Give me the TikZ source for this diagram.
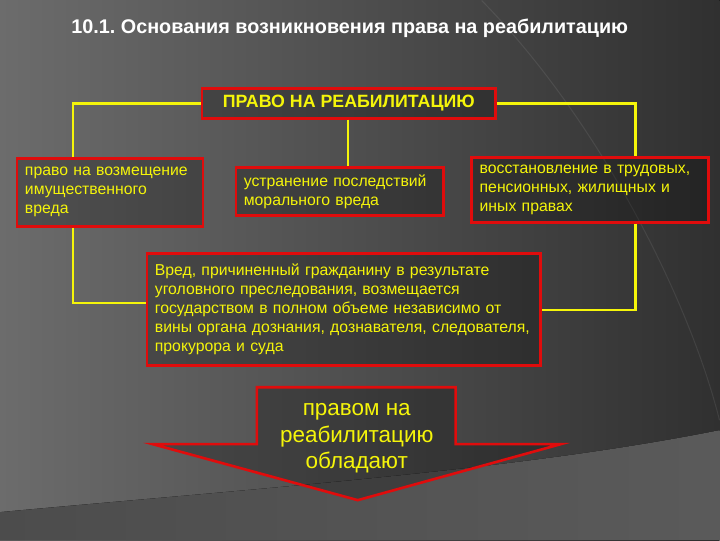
\documentclass[tikz,border=0pt]{standalone}
\usepackage{fontspec}
\setmainfont{Liberation Sans}
\usetikzlibrary{positioning}
\definecolor{bgleft}{HTML}{6C6C6C}
\definecolor{bgright}{HTML}{303030}
\definecolor{bglow}{HTML}{4C4C4C}
\definecolor{slidered}{HTML}{E00C0C}
\definecolor{slideyellow}{HTML}{F5F50A}
\frenchspacing
\begin{document}
\begin{tikzpicture}[x=1pt,y=-1pt]
\tikzset{ box/.style={draw=slidered, line width=2.6pt, fill=black, fill opacity=0.25, text opacity=1,
            text=slideyellow, align=left, inner xsep=8pt, inner ysep=4pt,
            font=\fontsize{15.8}{19}\selectfont},
          link/.style={slideyellow, line width=2.4pt},
          heading/.style={text=white, font=\bfseries\fontsize{19.8}{22}\selectfont},
}

% background
\fill [left color=bgleft, right color=bgright] (0,0) rectangle (720,540);
\fill [left color=bglow, right color=bglow!92!white]
  (0,512) .. controls (260,488) and (520,470) .. (720,430) -- (720,540) -- (0,540) -- cycle;
\draw [white, opacity=0.08, line width=1pt] (482,0) .. controls (600,120) and (690,300) .. (720,420);

\node [heading] (title) at (350,28) {10.1. Основания возникновения права на реабилитацию};

\node [box, align=center, minimum width=294, minimum height=30, inner ysep=0pt,
       font=\bfseries\fontsize{17.8}{20}\selectfont] (top) at (349,103) {ПРАВО НА РЕАБИЛИТАЦИЮ};

\node [box, text width=170, minimum height=68] (left) at (110,192)
  {право на возмещение\\ имущественного\\ вреда};
\node [box, text width=192, minimum height=48] (mid) at (340,191)
  {устранение последствий\\ морального вреда};
\node [box, text width=221, minimum height=65] (right) at (590.5,189.5)
  {восстановление в трудовых,\\ пенсионных, жилищных и\\ иных правах};
\node [box, text width=378, minimum height=112] (big) at (344,309)
  {Вред, причиненный гражданину в результате\\ уголовного преследования, возмещается\\ государством в полном объеме независимо от\\ вины органа дознания, дознавателя, следователя,\\ прокурора и суда};

\draw [link] (top.west) -| ([xshift=-37pt]left.north);
\draw [link] (top.east) -| ([xshift=45.5pt]right.north);
\draw [link] ([xshift=-1pt]top.south) -- ([xshift=-1pt]top.south |- mid.north);
\draw [link] ([xshift=-37pt]left.south) |- ([yshift=6pt]big.west);
\draw [link] ([xshift=45.5pt]right.south) |- ([yshift=-1pt]big.east);

% arrow
\draw [slidered, line width=2.6pt, fill=black, fill opacity=0.25]
  (257,387) -- (456,387) -- (456,444) -- (561,444) -- (358,500) -- (153,444) -- (257,444) -- cycle;
\node [text=slideyellow, align=center, font=\fontsize{22.5}{26.5}\selectfont] (owners) at (357,438)
  {правом на\\ реабилитацию\\ обладают};
\end{tikzpicture}
\end{document}
